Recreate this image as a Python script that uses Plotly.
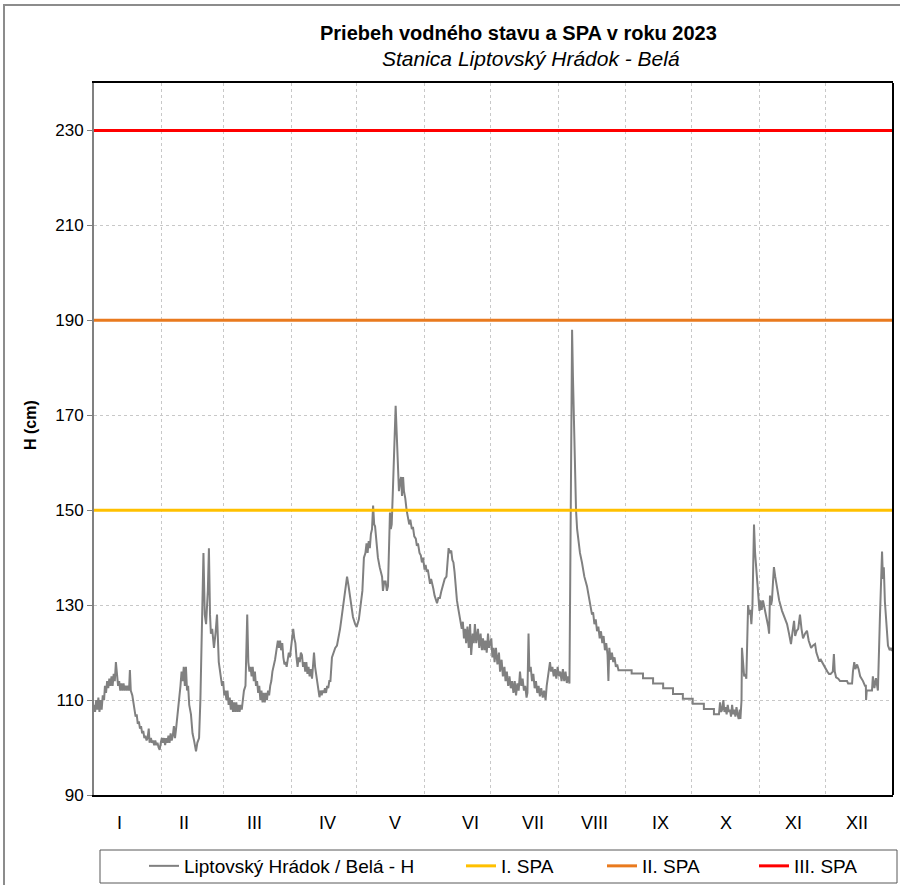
import plotly.graph_objects as go

# ---------------- data ----------------
months = ["I", "II", "III", "IV", "V", "VI", "VII", "VIII", "IX", "X", "XI", "XII"]
month_start_days = [31, 59, 90, 120, 151, 181, 212, 243, 273, 304, 334]
month_label_days = [11.6, 41.3, 73.1, 106.7, 137.4, 172.2, 200.4, 228.8, 258.9, 288.8, 319.5, 348.6]

series_name = "Liptovský Hrádok / Belá - H"
spa_names = ["I. SPA", "II. SPA", "III. SPA"]
spa_levels = [150, 190, 230]
y_title = "H (cm)"

points = [
    # January
    (0, 109), (0.5, 107.5), (1, 110), (1.5, 108), (2, 110.5), (2.5, 107.5), (3, 110), (3.5, 108), (4, 111), (4.6, 110),
    (5, 113), (5.5, 111.5), (6, 114), (6.5, 112.5), (7, 114.5), (7.5, 113), (8, 115), (8.5, 113), (9, 115.5), (9.5, 114),
    (10, 118), (10.5, 115), (11, 113), (11.5, 114), (12, 112), (12.5, 113.5), (13, 112), (13.5, 113.5), (14, 112), (14.5, 113),
    (15, 112), (15.5, 113), (16, 112), (16.4, 116.3), (16.8, 112), (17.5, 111), (18.3, 108.5), (19, 106.5), (19.5, 107), (20, 105),
    (20.5, 105.5), (21, 104), (21.5, 104.5), (22, 103), (22.5, 103.5), (23, 102), (23.5, 102.5), (24, 101.5), (24.5, 102), (25, 104),
    (25.4, 101), (26, 102), (26.5, 101), (27, 101.5), (27.5, 100.5), (28, 101.5), (28.5, 100.5), (29, 101), (29.5, 100), (30, 99.5),
    (30.5, 101), (31, 102),
    # February
    (31.5, 101), (32, 102), (32.5, 100.5), (33, 102), (33.5, 101), (34, 102.5), (34.5, 101), (35, 103), (35.5, 101.5), (36, 102.5),
    (36.5, 104.5), (37, 102), (37.5, 104), (38, 106), (38.5, 109), (39, 111), (39.5, 113), (40, 116), (40.5, 114), (41, 117),
    (41.5, 113), (42, 117), (42.5, 112), (43, 113), (43.5, 109), (44.3, 107), (45, 103), (45.7, 101.5), (46.6, 99.2), (47.2, 101),
    (48, 102), (48.6, 110), (49.3, 125), (50, 141), (50.6, 128), (51.2, 126), (52, 133), (52.5, 142), (53, 128), (53.4, 124),
    (54, 125), (54.8, 121), (55.5, 124), (56.2, 128), (57, 118), (57.5, 116), (58, 115), (58.5, 113), (59, 114),
    # March
    (59.5, 111), (60, 112), (60.5, 110), (61, 112), (61.5, 109), (62, 110.5), (62.5, 108), (63, 110), (63.5, 107.5), (64, 109.5),
    (64.5, 107.5), (65, 109.5), (65.5, 107.5), (66, 109), (66.5, 107.5), (67, 109), (67.5, 108), (68, 110), (68.5, 112), (69.2, 113),
    (70, 128), (70.5, 118), (71, 116), (71.5, 117), (72, 115), (72.5, 117), (73, 114), (73.5, 116), (74, 113), (74.5, 114),
    (75, 111.5), (75.5, 113), (76, 110), (76.5, 112), (77, 109.5), (77.5, 111.5), (78, 109.5), (78.5, 111.5), (79, 110), (79.5, 112),
    (80, 111), (80.5, 113), (81, 114), (81.5, 116), (82, 117), (82.7, 118.5), (83.5, 121), (84, 122.5), (84.5, 121), (85, 122.5),
    (85.5, 120.5), (86, 122), (86.5, 119), (87, 117.5), (87.5, 118), (88, 117), (88.5, 118.5), (89, 120), (89.5, 119),
    # April
    (90, 121), (90.5, 122), (91, 125), (91.5, 123), (92, 122), (92.5, 119), (93, 117), (93.5, 119), (94, 118), (94.5, 120),
    (95, 119.5), (95.5, 117), (96, 118), (96.5, 116), (97, 118), (97.5, 115.5), (98, 117), (98.5, 115), (99, 116.5), (99.6, 114.5),
    (100.5, 120), (101, 117), (101.5, 115.5), (102, 114.5), (102.5, 112), (103, 110.6), (103.5, 112), (104, 111), (104.5, 112), (105, 111.5),
    (105.5, 112.5), (106, 111.5), (106.5, 113), (107, 112.5), (107.5, 114), (108, 114), (108.7, 119), (109.5, 120), (110.2, 121), (111, 121.5),
    (111.7, 123), (112.4, 125), (113, 127), (113.7, 129.5), (114.3, 131), (115, 133), (115.6, 136), (116.3, 134), (117, 132), (117.7, 130),
    (118.3, 127.5), (119.3, 126), (120, 125.4),
    # May
    (121, 127), (122, 131), (122.6, 133), (123.3, 140), (124, 141), (124.5, 143), (125, 141), (125.5, 143.5), (126, 142), (126.5, 145),
    (127, 146), (127.5, 151), (128, 147), (128.4, 146.6), (129, 143), (129.7, 140), (130.5, 138), (131, 137), (131.6, 136), (132, 133),
    (132.6, 135), (133.2, 135), (133.8, 133), (134.3, 134), (134.7, 141), (135.2, 149.5), (135.6, 146), (136, 147), (136.6, 155), (137.3, 166),
    (137.8, 172), (138.3, 166), (138.9, 160), (139.3, 154), (139.8, 156), (140.3, 157), (140.7, 153), (141.2, 157), (141.6, 154), (142.2, 152.5),
    (142.8, 150), (143.4, 148.5), (144, 147), (144.5, 148), (145.2, 146), (145.7, 146.5), (146.3, 144.5), (147, 144), (147.5, 142.5), (148, 143),
    (148.7, 141), (149.3, 140.5), (149.8, 139), (150.3, 140), (151, 137.5),
    # June
    (151.5, 138.5), (152, 137), (152.5, 137.5), (153, 136), (153.5, 134.5), (154, 135.5), (154.5, 134), (155, 133.5), (155.6, 132), (156.2, 131),
    (156.7, 130.4), (157.3, 131.5), (158, 131.5), (158.7, 133), (159.4, 134), (160.2, 135.5), (161, 136), (161.5, 140), (162, 142), (162.6, 141),
    (163.2, 141.5), (163.7, 139.5), (164.2, 139), (164.7, 137), (165.2, 134), (165.8, 131), (166.5, 129), (167.2, 127), (168, 125), (168.5, 126.5),
    (169, 123), (169.5, 125), (170, 122), (170.6, 125.5), (171.2, 121), (171.8, 126), (172.3, 119.5), (173, 124), (173.5, 122), (174, 126),
    (174.6, 122), (175.4, 125), (176, 121), (176.6, 124), (177.2, 120.5), (177.7, 123), (178.3, 120.5), (178.8, 122.5), (179.4, 120), (180, 124),
    (180.5, 121), (181, 122),
    # July
    (181.5, 123), (182, 119), (182.5, 121), (183, 118), (183.6, 121), (184.3, 117.5), (185, 120), (185.5, 116), (186.2, 118.5), (186.8, 115),
    (187.5, 117), (188, 114), (188.6, 116), (189.2, 113), (189.8, 115), (190.4, 112.5), (191, 114), (191.6, 111.5), (192.2, 114), (192.8, 111),
    (193.4, 113.5), (194, 112), (194.6, 116), (195.2, 113), (195.8, 114.5), (196.4, 112), (197, 113), (197.6, 110.5), (198, 111.5), (198.5, 124),
    (198.9, 116), (199.5, 117), (200.1, 114), (200.7, 115.5), (201.3, 112.5), (201.9, 114), (202.5, 111.5), (203.1, 113), (203.7, 110.8), (204.3, 112.5),
    (205, 110.5), (205.6, 112), (206.3, 110), (206.8, 113), (207.5, 116), (208.3, 118), (208.8, 116), (209.4, 117), (210, 115), (210.6, 116.5),
    (211.2, 114.5), (211.8, 117), (212.4, 115),
    # August
    (213, 116), (213.6, 114), (214.2, 116.5), (214.8, 114), (215.4, 116), (216, 113.6), (216.6, 115), (217.2, 113.5), (217.5, 138), (218, 153),
    (218.4, 188), (218.8, 178), (219.3, 168), (219.8, 156), (220.2, 150), (220.7, 146), (221.1, 144), (222, 141), (222.9, 139), (224, 136),
    (225.2, 134), (226.3, 131), (227, 130), (227.5, 128), (228, 128.5), (228.6, 126), (229.2, 127), (229.8, 124.5), (230.4, 125.5), (231, 123),
    (231.6, 124.5), (232.2, 122), (232.8, 123.5), (233.4, 120.5), (234, 122), (234.6, 119.5), (235, 114), (235.4, 121), (236, 118.5), (236.6, 120),
    (237.2, 118), (237.8, 119), (238.4, 117), (239, 117.5), (239.6, 116.3),
    # September (stepped recession)
    (245.6, 116.3), (245.6, 115.6), (250.8, 115.6), (250.8, 114.6), (255.4, 114.6), (255.4, 113.5), (260, 113.5), (260, 112.5), (264.5, 112.5),
    (264.5, 111.3), (269, 111.3), (269, 110.3), (273.5, 110.3), (273.5, 109.2), (278.6, 109.2), (278.6, 108.1), (283.2, 108.1), (283.2, 107),
    (285.5, 107),
    # October
    (286, 109.5), (286.5, 107.5), (287, 108), (287.5, 110), (288, 107.5), (288.5, 108.5), (289, 107), (289.5, 109), (290, 107.5), (290.5, 108),
    (291, 106.5), (291.5, 109), (292, 107), (292.5, 108), (293, 106.5), (293.5, 108.5), (294, 107), (294.5, 106), (295, 108), (295.3, 106),
    (295.8, 110), (296, 121), (296.5, 118), (297, 115), (297.6, 115.5), (298, 114.5), (298.8, 130), (299.3, 128), (299.8, 129), (300.3, 126),
    (300.8, 130), (301.5, 147), (302, 141), (302.5, 138), (303, 135), (303.5, 130), (304, 128.8),
    # November
    (304.5, 131), (305, 129), (305.6, 131), (306.3, 129.5), (307, 128), (307.5, 127), (308, 125.5), (308.4, 124), (308.8, 132), (309.3, 130),
    (309.7, 131), (310.2, 135), (310.6, 138), (311.2, 136), (312, 133.7), (313, 131), (314.3, 128.8), (315.5, 127.5), (316.6, 126), (317.5, 124),
    (318.4, 121.8), (319, 124), (319.8, 126.7), (320.3, 123.5), (321, 124.6), (321.7, 125), (322.5, 128), (323.2, 125), (323.9, 123), (324.8, 124),
    (325.7, 124.6), (326.5, 122.5), (327.6, 121), (328.5, 121.5), (329.4, 121.8), (330, 120), (331.2, 118.3), (332, 118.5), (333, 117.6), (334, 117),
    # December
    (335, 116), (335.8, 115.5), (336.5, 115.5), (337.5, 116), (338, 119.7), (338.4, 116), (339, 114.8), (340, 114.5), (340.8, 114), (342, 114),
    (344, 114), (344.5, 113.5), (346.3, 113.5), (346.7, 116), (347.3, 118), (347.8, 116.5), (348.6, 117.5), (349.3, 116.5), (350, 115), (351.3, 114),
    (352.2, 113), (352.6, 113), (352.7, 110), (353, 112), (355.4, 112), (355.8, 115), (356.5, 112.5), (357.2, 114.6), (357.6, 113), (358.1, 112),
    (359, 127), (360, 141.3), (360.4, 135.5), (360.8, 138), (361.3, 130.7), (362.2, 125), (362.7, 121.5), (363.5, 120.5), (364, 121), (364.5, 120.5),
    (365, 120.5),
]
days = [p[0] for p in points]
levels = [p[1] for p in points]

# ---------------- figure ----------------
FONT = "Liberation Sans, Arial, sans-serif"
spa_colors = ["#FFC000", "#E97A1E", "#FF0000"]

fig = go.Figure()
fig.add_trace(go.Scatter(x=days, y=levels, mode="lines", name=series_name,
                         line=dict(color="#808080", width=2), legend="legend"))
for i, (nm, lvl) in enumerate(zip(spa_names, spa_levels)):
    fig.add_trace(go.Scatter(x=[0, 365], y=[lvl, lvl], mode="lines", name=nm,
                             line=dict(color=spa_colors[i], width=3),
                             legend=["legend2", "legend3", "legend4"][i]))

L, R, T, B = 94, 7, 83, 90
W, H = 900, 885
pw, ph = W - L - R, H - T - B

def px(xp):
    return (xp - L) / pw

def py(yp):
    return (H - B - yp) / ph

legend_common = dict(orientation="h", yanchor="middle", y=py(866), xanchor="left",
                     font=dict(family=FONT, size=19, color="#000"),
                     bgcolor="rgba(0,0,0,0)", borderwidth=0)

annotations = [
    dict(text="<b>Priebeh vodného stavu a SPA v roku 2023</b>", x=px(518), y=py(33), xref="paper", yref="paper",
         xanchor="center", yanchor="middle", showarrow=False, font=dict(family=FONT, size=20, color="#000")),
    dict(text="<i>Stanica Liptovský Hrádok - Belá</i>", x=px(530.5), y=py(58), xref="paper", yref="paper",
         xanchor="center", yanchor="middle", showarrow=False, font=dict(family=FONT, size=21, color="#000")),
    dict(text="<b>" + y_title + "</b>", x=px(30), y=py(425), xref="paper", yref="paper", textangle=-90,
         xanchor="center", yanchor="middle", showarrow=False, font=dict(family=FONT, size=16, color="#000")),
]
for d, m in zip(month_label_days, months):
    annotations.append(dict(text=m, x=d, xref="x", y=py(823), yref="paper", yanchor="middle", showarrow=False,
                            font=dict(family=FONT, size=18, color="#000")))

shapes = [
    # outer chart frame
    dict(type="rect", xref="paper", yref="paper", x0=px(4), x1=px(903), y0=py(889), y1=py(5),
         line=dict(color="#8c8c8c", width=2), layer="below"),
    # legend box
    dict(type="rect", xref="paper", yref="paper", x0=px(100), x1=px(897), y0=py(883), y1=py(850),
         line=dict(color="#595959", width=1)),
    # right border of plot area
    dict(type="line", xref="paper", yref="paper", x0=1, x1=1, y0=0, y1=1,
         line=dict(color="#000", width=2)),
]

fig.update_layout(
    width=W, height=H,
    margin=dict(l=L, r=R, t=T, b=B, autoexpand=False),
    paper_bgcolor="white", plot_bgcolor="white",
    font=dict(family=FONT, size=15, color="#000"),
    showlegend=True,
    legend=dict(legend_common, x=px(144)),
    legend2=dict(legend_common, x=px(461)),
    legend3=dict(legend_common, x=px(602)),
    legend4=dict(legend_common, x=px(754)),
    annotations=annotations,
    shapes=shapes,
    xaxis=dict(range=[0, 365], tickvals=month_start_days, showticklabels=False, ticks="",
               showgrid=True, gridcolor="#c8c8c8", griddash="dot", gridwidth=1,
               showline=True, linecolor="#000", linewidth=2, mirror=True, zeroline=False,
               fixedrange=True),
    yaxis=dict(range=[90, 240], tickvals=[90, 110, 130, 150, 170, 190, 210, 230],
               showgrid=True, gridcolor="#c8c8c8", griddash="dot", gridwidth=1,
               showline=True, linecolor="#808080", linewidth=2, zeroline=False,
               ticks="outside", ticklen=5, tickcolor="#808080", tickwidth=1,
               tickfont=dict(family=FONT, size=17, color="#000"),
               fixedrange=True),
)

fig.write_html("out.html", config={"displayModeBar": False},
               post_script="document.body.style.margin='0px';document.body.style.overflow='hidden';")
